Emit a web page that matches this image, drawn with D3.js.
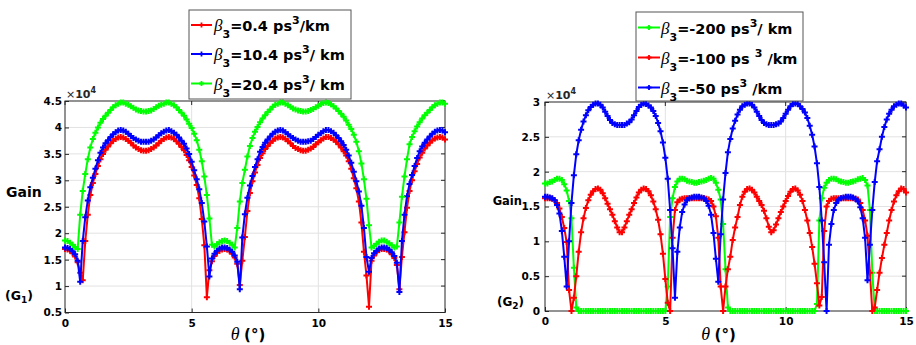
<!DOCTYPE html>
<html><head><meta charset="utf-8">
<script src="https://cdn.jsdelivr.net/npm/d3@7/dist/d3.min.js"></script>
<style>body{margin:0;background:#fff}svg{display:block}text{white-space:pre}</style>
</head><body>
<svg id="c" width="916" height="345"></svg>
<script>
const theta = [0.0,0.1,0.2,0.3,0.4,0.5,0.6,0.7,0.8,0.9,1.0,1.1,1.2,1.3,1.4,1.5,1.6,1.7,1.8,1.9,2.0,2.1,2.2,2.3,2.4,2.5,2.6,2.7,2.8,2.9,3.0,3.1,3.2,3.3,3.4,3.5,3.6,3.7,3.8,3.9,4.0,4.1,4.2,4.3,4.4,4.5,4.6,4.7,4.8,4.9,5.0,5.1,5.2,5.3,5.4,5.5,5.6,5.7,5.8,5.9,6.0,6.1,6.2,6.3,6.4,6.5,6.6,6.7,6.8,6.9,7.0,7.1,7.2,7.3,7.4,7.5,7.6,7.7,7.8,7.9,8.0,8.1,8.2,8.3,8.4,8.5,8.6,8.7,8.8,8.9,9.0,9.1,9.2,9.3,9.4,9.5,9.6,9.7,9.8,9.9,10.0,10.1,10.2,10.3,10.4,10.5,10.6,10.7,10.8,10.9,11.0,11.1,11.2,11.3,11.4,11.5,11.6,11.7,11.8,11.9,12.0,12.1,12.2,12.3,12.4,12.5,12.6,12.7,12.8,12.9,13.0,13.1,13.2,13.3,13.4,13.5,13.6,13.7,13.8,13.9,14.0,14.1,14.2,14.3,14.4,14.5,14.6,14.7,14.8,14.9,15.0];

// Left panel (G1), values in units of 1e4
const g1Red = [1.70,1.69,1.67,1.62,1.56,1.45,1.25,1.11,1.85,2.35,
2.72,2.95,3.12,3.27,3.40,3.50,3.58,3.64,3.70,3.75,
3.78,3.81,3.82,3.81,3.78,3.75,3.71,3.66,3.62,3.59,
3.57,3.56,3.56,3.57,3.59,3.62,3.66,3.70,3.75,3.78,
3.81,3.82,3.81,3.78,3.74,3.69,3.63,3.57,3.48,3.38,
3.25,3.09,2.91,2.66,2.27,1.77,0.79,1.30,1.47,1.57,
1.63,1.67,1.69,1.70,1.69,1.66,1.61,1.54,1.42,1.02,
1.48,1.93,2.42,2.76,2.98,3.15,3.29,3.42,3.51,3.59,
3.65,3.71,3.75,3.79,3.81,3.82,3.81,3.78,3.74,3.70,
3.65,3.61,3.59,3.57,3.56,3.56,3.58,3.60,3.63,3.68,
3.72,3.76,3.79,3.82,3.82,3.80,3.77,3.73,3.68,3.62,
3.55,3.47,3.36,3.22,3.04,2.85,2.60,2.20,1.65,1.20,
0.61,1.48,1.58,1.64,1.68,1.70,1.70,1.69,1.66,1.60,
1.53,1.40,0.94,1.55,2.02,2.48,2.80,3.00,3.17,3.31,
3.43,3.52,3.60,3.66,3.71,3.76,3.79,3.81,3.82,3.81,
3.77];
const g1Blue = [1.73,1.72,1.70,1.66,1.60,1.48,1.08,1.85,2.30,2.62,
2.87,3.05,3.22,3.38,3.52,3.62,3.70,3.76,3.82,3.87,
3.91,3.94,3.95,3.94,3.92,3.88,3.84,3.80,3.77,3.75,
3.73,3.73,3.73,3.73,3.75,3.77,3.81,3.85,3.89,3.92,
3.94,3.95,3.93,3.90,3.86,3.81,3.75,3.69,3.60,3.50,
3.35,3.19,3.02,2.83,2.57,2.22,1.75,1.18,1.52,1.61,
1.67,1.71,1.73,1.73,1.72,1.69,1.65,1.58,1.46,0.94,
1.92,2.36,2.67,2.90,3.08,3.25,3.40,3.54,3.63,3.71,
3.77,3.83,3.88,3.92,3.94,3.95,3.94,3.91,3.87,3.83,
3.80,3.77,3.75,3.73,3.73,3.73,3.74,3.75,3.78,3.82,
3.86,3.89,3.93,3.95,3.95,3.93,3.90,3.85,3.80,3.74,
3.67,3.58,3.47,3.33,3.16,2.98,2.79,2.52,2.10,1.55,
1.27,1.53,1.62,1.67,1.71,1.73,1.73,1.72,1.69,1.64,
1.57,1.44,0.89,1.85,2.35,2.70,2.93,3.10,3.27,3.42,
3.55,3.64,3.71,3.77,3.83,3.88,3.92,3.94,3.95,3.94,
3.91];
const g1Green = [1.86,1.85,1.82,1.78,1.74,1.70,2.35,2.80,3.12,3.40,
3.62,3.78,3.90,4.00,4.09,4.16,4.22,4.28,4.33,4.38,
4.42,4.45,4.47,4.47,4.45,4.43,4.40,4.37,4.34,4.32,
4.31,4.30,4.30,4.31,4.32,4.35,4.38,4.41,4.43,4.45,
4.47,4.47,4.45,4.42,4.38,4.33,4.28,4.22,4.15,4.07,
3.99,3.88,3.76,3.58,3.36,3.07,2.72,2.28,1.78,1.75,
1.79,1.83,1.85,1.86,1.85,1.82,1.78,1.73,2.10,2.60,
2.95,3.20,3.45,3.65,3.80,3.92,4.01,4.10,4.17,4.23,
4.29,4.34,4.39,4.43,4.45,4.47,4.47,4.45,4.42,4.39,
4.36,4.34,4.32,4.31,4.30,4.30,4.31,4.33,4.35,4.38,
4.41,4.44,4.46,4.47,4.46,4.44,4.40,4.36,4.31,4.26,
4.20,4.13,4.05,3.97,3.86,3.73,3.55,3.32,3.02,2.65,
2.15,1.73,1.76,1.80,1.84,1.86,1.86,1.84,1.81,1.77,
1.73,1.75,2.20,2.69,3.07,3.40,3.68,3.82,3.93,4.02,
4.10,4.17,4.23,4.28,4.33,4.38,4.42,4.45,4.47,4.47,
4.45];

// Right panel (G2), values in units of 1e4
const g2Green = [1.83,1.83,1.85,1.86,1.88,1.90,1.90,1.88,1.82,1.73,
1.58,1.33,0.62,0.05,0,0,0,0,0,0,
0,0,0,0,0,0,0,0,0,0,
0,0,0,0,0,0,0,0,0,0,
0,0,0,0,0,0,0,0,0,0,
0.00,0.35,1.35,1.62,1.78,1.86,1.90,1.90,1.89,1.87,
1.86,1.85,1.84,1.84,1.85,1.86,1.87,1.88,1.90,1.91,
1.90,1.84,1.74,1.60,1.25,0.60,0.05,0,0,0,
0,0,0,0,0,0,0,0,0,0,
0,0,0,0,0,0,0,0,0,0,
0,0,0,0,0,0,0,0,0,0,
0,0,0,0.10,1.30,1.62,1.77,1.84,1.88,1.90,
1.90,1.89,1.87,1.86,1.85,1.84,1.84,1.85,1.86,1.87,
1.89,1.90,1.91,1.88,1.80,1.45,0.55,0,0,0,
0,0,0,0,0,0,0,0,0,0,
0];
const g2Red = [1.62,1.62,1.62,1.61,1.59,1.55,1.47,1.35,1.19,0.99,
0.30,0.00,0.19,0.50,0.85,1.13,1.33,1.48,1.59,1.67,
1.72,1.75,1.76,1.74,1.69,1.62,1.54,1.46,1.38,1.29,
1.20,1.13,1.13,1.20,1.29,1.38,1.46,1.55,1.63,1.70,
1.74,1.76,1.75,1.72,1.66,1.57,1.46,1.31,1.10,0.82,
0.46,0.12,0.00,1.05,1.45,1.56,1.60,1.61,1.62,1.62,
1.62,1.62,1.62,1.62,1.62,1.62,1.62,1.61,1.60,1.58,
1.50,1.36,1.05,0.35,0.00,0.35,0.60,0.78,1.02,1.20,
1.35,1.52,1.64,1.71,1.75,1.76,1.74,1.70,1.64,1.58,
1.52,1.44,1.33,1.21,1.13,1.16,1.24,1.33,1.42,1.50,
1.58,1.65,1.71,1.75,1.76,1.73,1.67,1.58,1.45,1.30,
1.12,0.92,0.68,0.40,0.08,0.20,1.15,1.50,1.58,1.61,
1.62,1.62,1.62,1.62,1.62,1.62,1.62,1.62,1.62,1.61,
1.60,1.55,1.45,1.30,1.08,0.55,0.00,0.05,0.30,0.55,
0.76,0.95,1.12,1.30,1.45,1.57,1.66,1.72,1.76,1.75,
1.70];
const g2Blue = [1.64,1.64,1.63,1.62,1.59,1.52,1.40,1.15,0.78,0.35,
1.00,1.55,1.95,2.25,2.45,2.60,2.72,2.81,2.88,2.93,
2.96,2.98,2.98,2.96,2.92,2.86,2.80,2.74,2.70,2.68,
2.67,2.67,2.67,2.67,2.69,2.71,2.75,2.81,2.87,2.93,
2.96,2.98,2.97,2.95,2.92,2.87,2.80,2.70,2.58,2.42,
2.20,1.90,1.45,0.90,0.19,0.85,1.20,1.42,1.53,1.59,
1.62,1.63,1.64,1.64,1.64,1.63,1.62,1.58,1.51,1.38,
1.12,0.75,0.42,1.10,1.60,1.98,2.28,2.47,2.62,2.73,
2.82,2.89,2.94,2.96,2.98,2.98,2.96,2.92,2.86,2.80,
2.74,2.70,2.68,2.67,2.67,2.67,2.68,2.69,2.72,2.77,
2.83,2.89,2.94,2.97,2.98,2.97,2.94,2.90,2.85,2.77,
2.66,2.53,2.36,2.12,1.78,1.30,0.70,0.00,0.95,1.25,
1.45,1.55,1.60,1.62,1.63,1.64,1.64,1.64,1.63,1.61,
1.57,1.49,1.33,1.05,0.44,0.95,1.45,1.85,2.15,2.32,
2.50,2.64,2.75,2.83,2.89,2.94,2.96,2.98,2.98,2.95,
2.92];

const xTicks = [0, 5, 10, 15];
const g1YTicks = [0.5, 1, 1.5, 2, 2.5, 3, 3.5, 4, 4.5];
const g2YTicks = [0, 0.5, 1, 1.5, 2, 2.5, 3];
const g1Legend = [
  {main: "=0.4 ps", sup: "3", tail: "/km"},
  {main: "=10.4 ps", sup: "3", tail: "/ km"},
  {main: "=20.4 ps", sup: "3", tail: "/ km"}
];
const g2Legend = [
  {main: "=-200 ps", sup: "3", tail: "/ km"},
  {main: "=-100 ps ", sup: "3", tail: " /km"},
  {main: "=-50 ps", sup: "3", tail: " /km"}
];

const SANS = '"DejaVu Sans", sans-serif';
const SERIF = '"Liberation Serif", "DejaVu Serif", serif';
const svg = d3.select('#c');

function plus(g, px, py, color, s, w) {
  g.append('path').attr('d', `M${px - s},${py}h${2 * s}M${px},${py - s}v${2 * s}`)
    .attr('stroke', color).attr('stroke-width', w).attr('fill', 'none');
}

function panel(o) {
  const x = d3.scaleLinear().domain([0, 15]).range([o.x0, o.x1]);
  const y = d3.scaleLinear().domain(o.yDomain).range([o.y1, o.y0]);
  const g = svg.append('g');
  g.append('g').selectAll('line').data(xTicks.slice(1, -1)).join('line')
    .attr('x1', d => x(d)).attr('x2', d => x(d)).attr('y1', o.y0).attr('y2', o.y1)
    .attr('stroke', '#e2e2e2').attr('stroke-width', 1);
  g.append('g').selectAll('line').data(o.yTicks.slice(1, -1)).join('line')
    .attr('y1', d => y(d)).attr('y2', d => y(d)).attr('x1', o.x0).attr('x2', o.x1)
    .attr('stroke', '#e2e2e2').attr('stroke-width', 1);
  const ax = g.append('g').attr('transform', `translate(0,${o.y1})`)
    .call(d3.axisBottom(x).tickValues(xTicks).tickSizeInner(-4).tickSizeOuter(0).tickPadding(7).tickFormat(d3.format('d')));
  const ay = g.append('g').attr('transform', `translate(${o.x0},0)`)
    .call(d3.axisLeft(y).tickValues(o.yTicks).tickSizeInner(-4).tickSizeOuter(0).tickPadding(o.pad).tickFormat(d => String(d)));
  [ax, ay].forEach(a => {
    a.select('.domain').remove();
    a.selectAll('.tick line').attr('stroke', '#262626');
    a.selectAll('text').attr('font-family', SANS).attr('font-weight', 'bold').attr('font-size', 10.5).attr('fill', '#000');
  });
  g.append('g').selectAll('line').data(xTicks).join('line')
    .attr('x1', d => x(d)).attr('x2', d => x(d)).attr('y1', o.y0).attr('y2', o.y0 + 4).attr('stroke', '#262626');
  g.append('g').selectAll('line').data(o.yTicks).join('line')
    .attr('y1', d => y(d)).attr('y2', d => y(d)).attr('x1', o.x1).attr('x2', o.x1 - 4).attr('stroke', '#262626');
  g.append('rect').attr('x', o.x0).attr('y', o.y0).attr('width', o.x1 - o.x0).attr('height', o.y1 - o.y0)
    .attr('fill', 'none').attr('stroke', '#262626').attr('stroke-width', 1);
  const ex = g.append('text').attr('x', o.x0 + 1).attr('y', o.y0 - 3).attr('font-family', SANS).attr('font-size', 11).attr('fill', '#262626');
  ex.append('tspan').text('×');
  ex.append('tspan').attr('font-weight', 'bold').text('10');
  ex.append('tspan').attr('font-weight', 'bold').attr('font-size', 8).attr('dy', -5).text('4');
  const line = d3.line().x((d, i) => x(theta[i])).y(d => y(d));
  o.series.forEach(s => {
    g.append('path').datum(s.values).attr('d', line).attr('fill', 'none')
      .attr('stroke', s.color).attr('stroke-width', 2).attr('stroke-linejoin', 'round');
    const mg = g.append('g');
    s.values.forEach((v, i) => plus(mg, x(theta[i]), y(v), s.color, 3, 2));
  });
  const xl = g.append('text').attr('x', (o.x0 + o.x1) / 2 - 7).attr('y', 340).attr('text-anchor', 'middle');
  xl.append('tspan').attr('font-family', SERIF).attr('font-style', 'italic').attr('font-size', 18).text('θ ');
  xl.append('tspan').attr('font-family', SANS).attr('font-weight', 'bold').attr('font-size', 15).text('(°)');
  return {x, y};
}

function legend(o) {
  const g = svg.append('g');
  g.append('rect').attr('x', o.x).attr('y', o.y).attr('width', o.w).attr('height', o.h)
    .attr('fill', '#fff').attr('stroke', '#555').attr('stroke-width', 1);
  o.entries.forEach((e, i) => {
    const cy = o.rows[i];
    g.append('line').attr('x1', o.lx0).attr('x2', o.lx1).attr('y1', cy).attr('y2', cy)
      .attr('stroke', o.colors[i]).attr('stroke-width', 2);
    plus(g, (o.lx0 + o.lx1) / 2, cy, o.colors[i], 2.5, 1.8);
    const t = g.append('text').attr('x', o.tx).attr('y', cy + 6).attr('font-family', SANS).attr('fill', '#000');
    t.append('tspan').attr('font-family', SERIF).attr('font-style', 'italic').attr('font-size', 17).text('β');
    t.append('tspan').attr('font-weight', 'bold').attr('font-size', 11).attr('dy', 7).text('3');
    t.append('tspan').attr('font-weight', 'bold').attr('font-size', 14.5).attr('dy', -7).text(e.main);
    t.append('tspan').attr('font-weight', 'bold').attr('font-size', 11).attr('dy', -7).text(e.sup);
    t.append('tspan').attr('font-weight', 'bold').attr('font-size', 14.5).attr('dy', 7).text(e.tail);
  });
}

panel({x0: 65, x1: 445, y0: 101, y1: 312.5, yDomain: [0.5, 4.5], yTicks: g1YTicks, pad: 3,
  series: [{values: g1Red, color: '#ff0000'}, {values: g1Blue, color: '#0000ff'}, {values: g1Green, color: '#00ff00'}]});
panel({x0: 545, x1: 906, y0: 102, y1: 311, yDomain: [0, 3], yTicks: g2YTicks, pad: 5,
  series: [{values: g2Green, color: '#00ff00'}, {values: g2Red, color: '#ff0000'}, {values: g2Blue, color: '#0000ff'}]});

legend({x: 189, y: 10, w: 162, h: 89, rows: [25, 54, 83.5], lx0: 191, lx1: 212, tx: 214,
  entries: g1Legend, colors: ['#ff0000', '#0000ff', '#00ff00']});
legend({x: 636, y: 12, w: 167, h: 89, rows: [27.5, 57.5, 87.5], lx0: 638, lx1: 660, tx: 661,
  entries: g2Legend, colors: ['#00ff00', '#ff0000', '#0000ff']});

svg.append('text').attr('x', 6).attr('y', 197).attr('font-family', SANS).attr('font-weight', 'bold').attr('font-size', 14).text('Gain');
const gl1 = svg.append('text').attr('x', 5).attr('y', 300).attr('font-family', SANS).attr('font-weight', 'bold').attr('font-size', 12.5);
gl1.append('tspan').text('(G');
gl1.append('tspan').attr('font-size', 9).attr('dy', 3).text('1');
gl1.append('tspan').attr('dy', -3).text(')');
svg.append('text').attr('x', 522).attr('y', 205).attr('text-anchor', 'end').attr('font-family', SANS).attr('font-weight', 'bold').attr('font-size', 11.5).text('Gain');
const gl2 = svg.append('text').attr('x', 497).attr('y', 306).attr('font-family', SANS).attr('font-weight', 'bold').attr('font-size', 12);
gl2.append('tspan').text('(G');
gl2.append('tspan').attr('font-size', 9).attr('dy', 3).text('2');
gl2.append('tspan').attr('dy', -3).text(')');
</script>
</body></html>
